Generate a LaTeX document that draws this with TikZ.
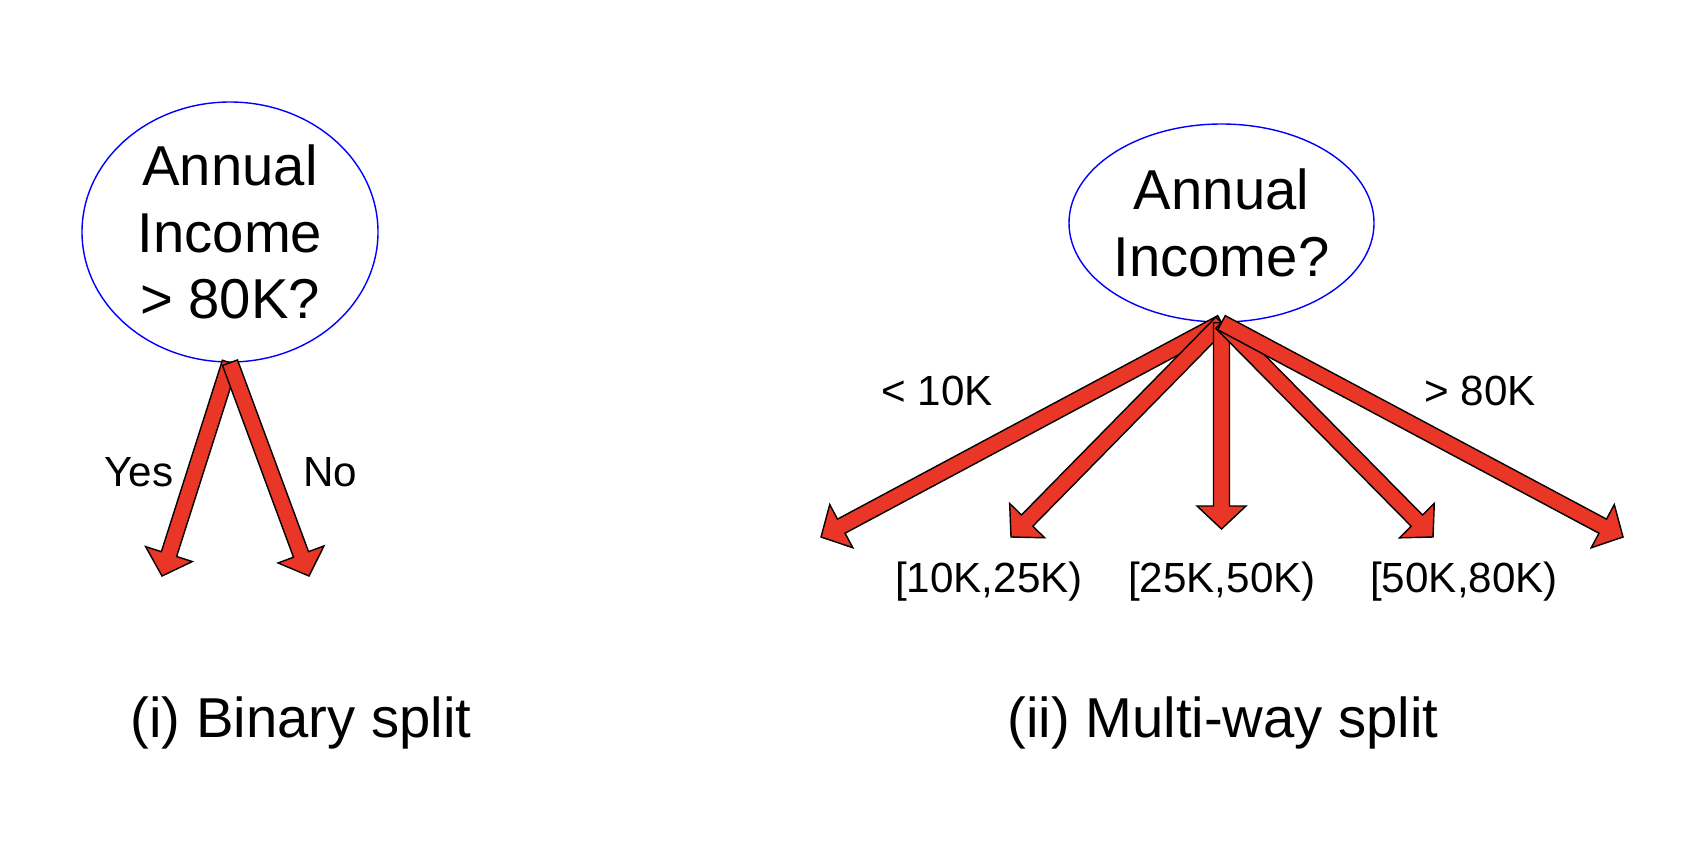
\documentclass[tikz,border=0pt]{standalone}
\usepackage{fontspec}
\setmainfont{Liberation Sans}
\usepackage{tikz}
\usetikzlibrary{positioning}
\usetikzlibrary{calc}
\usetikzlibrary{shapes.geometric}

\definecolor{arrowred}{RGB}{233,54,39}

\newcommand{\shaftw}{0.08cm}
\newcommand{\headw}{0.245cm}
\newcommand{\headlen}{0.23cm}

\tikzset{
    rootnode/.style={ellipse, draw=blue, line width=0.4pt, inner sep=0pt,
        align=center, font=\fontsize{16}{19}\selectfont},
    splitarrow/.style={fill=arrowred, draw=black, line width=0.4pt, line join=miter},
    lbl/.style={anchor=base, inner sep=0pt, font=\fontsize{12}{14}\selectfont},
    caption/.style={anchor=base, inner sep=0pt, font=\fontsize{16}{19}\selectfont}
}

% block arrow from #1 to #2
\newcommand{\splitarrow}[2]{%
    \coordinate (neck) at ($(#2)!\headlen!(#1)$);
    \draw[splitarrow]
    ($(#1)!\shaftw!90:(#2)$) -- ($(neck)!\shaftw!90:(#2)$)
    -- ($(neck)!\headw!90:(#2)$) -- (#2)
    -- ($(neck)!\headw!-90:(#2)$) -- ($(neck)!\shaftw!-90:(#2)$)
    -- ($(#1)!\shaftw!-90:(#2)$) -- cycle;
}

\begin{document}
\begin{tikzpicture}
        \useasboundingbox (0,0) rectangle (17.04,8.42);

        % binary split
        \node[rootnode,
            minimum width = 2.96cm,
            minimum height = 2.60cm]
        (binroot) at (2.30,6.10) {Annual\\Income\\> 80K?};

        \coordinate (yes) at (1.62,2.66);
        \coordinate (no) at (3.09,2.66);

        \splitarrow{binroot.south}{yes}
        \splitarrow{binroot.south}{no}

        \node[lbl] (lyes) at (1.39,3.56) {Yes};
        \node[lbl] (lno) at (3.30,3.56) {No};

        % multi-way split
        \node[rootnode,
            minimum width = 2.85cm,
            minimum height = 1.98cm]
        (multiroot) at (12.215,6.19) {Annual\\Income?};

        \coordinate (r1) at (8.21,3.05);
        \coordinate (r2) at (10.11,3.05);
        \coordinate (r3) at (12.215,3.13);
        \coordinate (r4) at (14.33,3.05);
        \coordinate (r5) at (16.23,3.05);

        \foreach \u in {1,2,3,4,5}
        {
            \splitarrow{multiroot.south}{r\u}
        }

        \node[lbl] (l1) at (9.37,4.37) {< 10K};
        \node[lbl] (l2) at (9.89,2.50) {[10K,25K)};
        \node[lbl] (l3) at (12.22,2.50) {[25K,50K)};
        \node[lbl] (l4) at (14.64,2.50) {[50K,80K)};
        \node[lbl] (l5) at (14.80,4.37) {> 80K};

        \node[caption] (capbin) at (3.01,1.05) {(i) Binary split};
        \node[caption] (capmulti) at (12.23,1.05) {(ii) Multi-way split};
\end{tikzpicture}
\end{document}
